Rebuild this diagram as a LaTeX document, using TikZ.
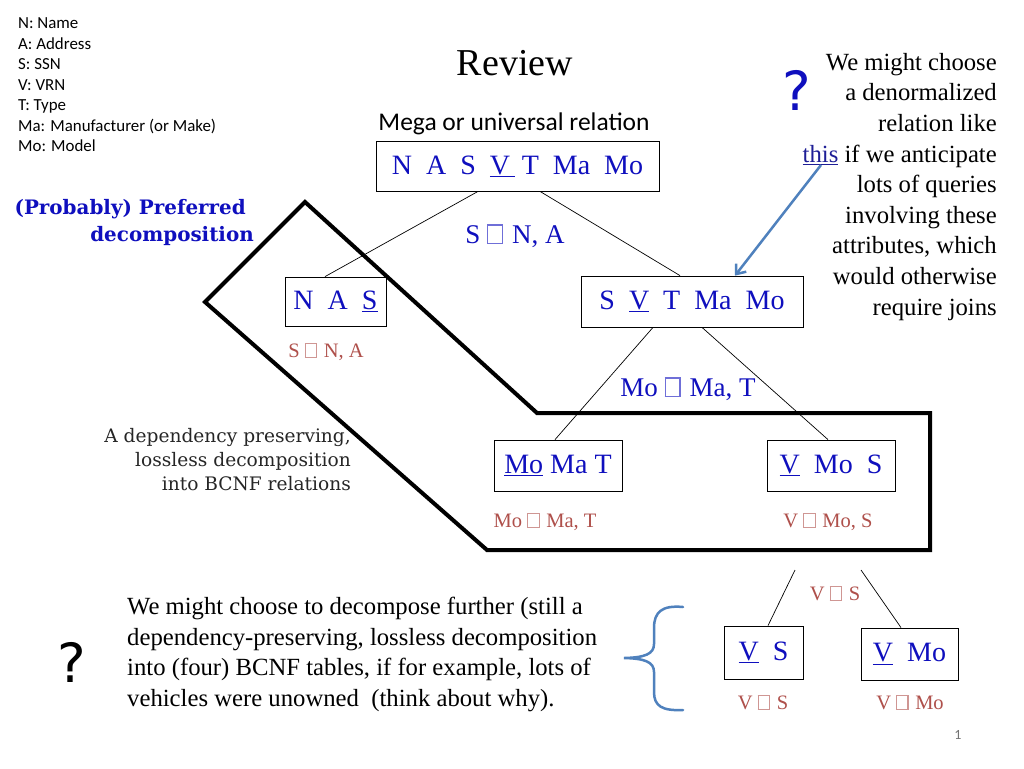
\documentclass[tikz,border=0pt]{standalone}
\usepackage{fontspec}
\setmainfont{Liberation Serif}
\newfontfamily\calibri{Carlito}
\newfontfamily\dvs{DejaVu Serif}
\newfontfamily\qfont{DejaVu Sans}
\usetikzlibrary{arrows.meta}
\definecolor{tblue}{RGB}{15,15,190}
\definecolor{tred}{RGB}{175,80,75}
\definecolor{steel}{RGB}{79,129,189}
\definecolor{linkblue}{RGB}{30,30,150}
\newcommand\gbox{{\color{.!60!white}\fboxrule=0.05em\fboxsep=0pt\fbox{\rule{0pt}{0.64em}\rule{0.5em}{0pt}}}\kern0.08em}
\tikzset{
  rel/.style={draw, line width=0.8pt, inner sep=0pt, text=tblue, font=\fontsize{28}{30}\selectfont},
  fdb/.style={inner sep=0pt, text=tblue, font=\fontsize{27}{30}\selectfont},
  fdr/.style={inner sep=0pt, text=tred, font=\fontsize{20.5}{24}\selectfont},
  edge/.style={line width=0.7pt},
  prose/.style={inner sep=0pt, font=\fontsize{24.7}{30.6}\selectfont},
  qmark/.style={inner sep=0pt, font=\qfont\fontsize{54}{54}\selectfont}
}
\begin{document}
\begin{tikzpicture}[x=1pt,y=-1pt]
\fill[white] (0,0) rectangle (1024,768);
\useasboundingbox (0,0) rectangle (1024,768);

% legend
\node[inner sep=0pt, anchor=north west, align=left, font=\calibri\fontsize{16.9}{20.5}\selectfont] (legend) at (18,17.5)
 {N: Name\\A: Address\\S: SSN\\V: VRN\\T: Type\\Ma: Manufacturer (or Make)\\Mo: Model};

% title
\node[inner sep=0pt, anchor=base, font=\fontsize{38}{40}\selectfont] (title) at (515,75) {Review};
\node[inner sep=0pt, anchor=base, font=\calibri\fontsize{25.5}{28}\selectfont] (mega) at (514,130) {Mega or universal relation};

% enclosure
\draw[line width=4pt, line join=miter] (205,302) -- (305,202) -- (537,413) -- (930,413) -- (930,550) -- (487,550) -- cycle;

% relations
\node[rel, minimum width=283, minimum height=50] (R) at (517.5,166) {N~~A~~S~~\underline{V\,}~T~~Ma~~Mo};
\node[rel, minimum width=101, minimum height=49] (NAS) at (335.5,301.5) {N~~A~~\underline{S}};
\node[rel, minimum width=222, minimum height=51] (SVT) at (692,301.5) {S~~\underline{V}~~T~~Ma~~Mo};
\node[rel, minimum width=128, minimum height=51] (MMT) at (558,465.5) {\underline{Mo} Ma T};
\node[rel, minimum width=128, minimum height=51] (VMS) at (831,465.5) {\raisebox{-8pt}{\underline{V}~~Mo~~S}};
\node[rel, minimum width=79, minimum height=53] (VS) at (763.5,652.5) {\underline{V}~~S};
\node[rel, minimum width=97, minimum height=52] (VMo) at (909.5,654) {\underline{V}~~Mo};

% dependencies
\node[fdb, anchor=base] (fd1) at (515,243) {S\ \gbox\ N, A};
\node[fdr, anchor=base] (fd2) at (326,357) {S\ \gbox\ N, A};
\node[fdb, anchor=base] (fd3) at (688,396) {Mo\ \gbox\ Ma, T};
\node[fdr, anchor=base] (fd4) at (545,527) {Mo\ \gbox\ Ma, T};
\node[fdr, anchor=base] (fd5) at (828,527) {V\ \gbox\ Mo, S};
\node[fdr, anchor=base] (fd6) at (835,600) {V\ \gbox\ S};
\node[fdr, anchor=base] (fd7) at (763,709) {V\ \gbox\ S};
\node[fdr, anchor=base] (fd8) at (910,709) {V\ \gbox\ Mo};

% tree edges
\draw[edge] ([xshift=-39.5pt]R.south) -- ([xshift=-10.5pt]NAS.north);
\draw[edge] ([xshift=22.5pt]R.south) -- ([xshift=-12pt]SVT.north);
\draw[edge] ([xshift=-39pt]SVT.south) -- ([xshift=-3pt]MMT.north);
\draw[edge] ([xshift=10pt]SVT.south) -- ([xshift=-3pt]VMS.north);
\coordinate (c1) at (795,570);
\coordinate (c2) at (861,570);
\draw[edge] (c1) -- ([xshift=4.5pt]VS.north);
\draw[edge] (c2) -- ([xshift=-8.5pt]VMo.north);

% side notes
\node[inner sep=0pt, anchor=north east, align=right, text=tblue, font=\dvs\bfseries\fontsize{19.9}{27}\selectfont] (pref) at (254,199)
 {(Probably) Preferred\hspace*{8pt}\\decomposition};
\node[inner sep=0pt, anchor=north east, align=right, text=black!85, font=\dvs\fontsize{18.6}{24}\selectfont] (dep) at (351,428)
 {A dependency preserving,\\lossless decomposition\hspace*{6pt}\\into BCNF relations};

\node[prose, anchor=north east, align=right] (note1) at (997,53)
 {We might choose\\a denormalized\\relation like\\{\color{linkblue}\underline{this}} if we anticipate\\lots of queries\\involving these\\attributes, which\\would otherwise\\require joins};
\node[prose, anchor=north west, align=left] (note2) at (127,597)
 {We might choose to decompose further (still a\\dependency-preserving, lossless decomposition\\into (four) BCNF tables, if for example, lots of\\vehicles were unowned\ \ (think about why).};

\node[qmark, text=tblue] (q1) at (797,90) {?};
\node[qmark, text=black] (q2) at (72,662) {?};

% arrow from "this"
\coordinate (thisend) at (821,165);
\draw[steel, line width=2.5pt, -{Straight Barb[length=8pt,width=13pt]}] (thisend) -- ([xshift=43pt]SVT.north);

% brace
\draw[steel, line width=2.5pt, line cap=round] (683,607) .. controls (662,605) and (654,612) .. (654,628) -- (654,644) .. controls (654,654) and (645,657.5) .. (624,658) .. controls (645,658.5) and (654,662) .. (654,672) -- (654,692) .. controls (654,706) and (662,711) .. (683,710);

\node[inner sep=0pt, text=black!55, font=\calibri\fontsize{14}{14}\selectfont] (pg) at (958,735) {1};
\end{tikzpicture}
\end{document}
